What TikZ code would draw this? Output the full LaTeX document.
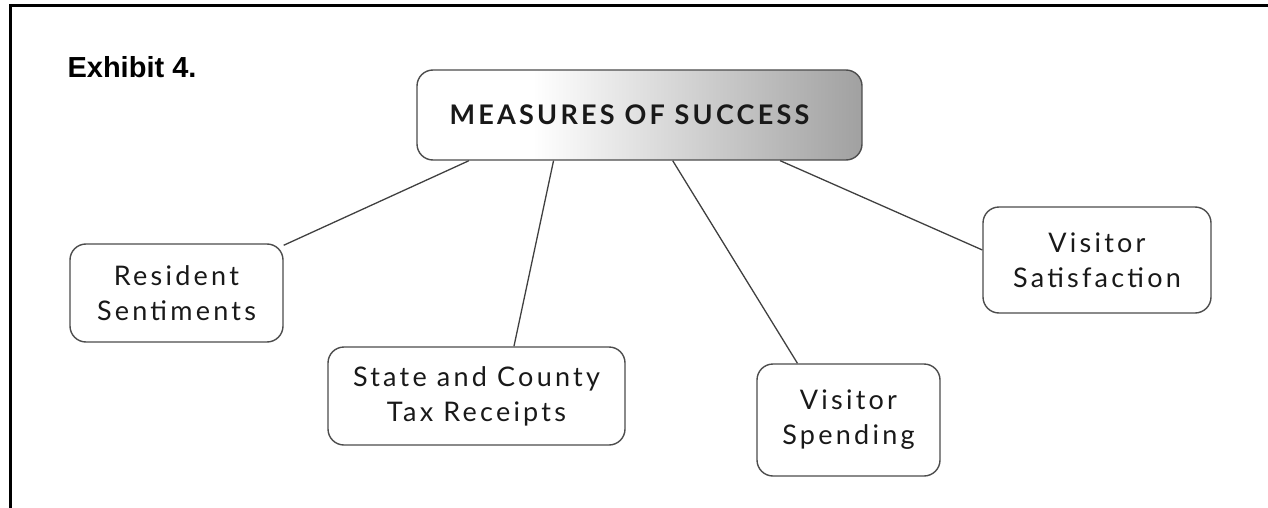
\documentclass[tikz,border=0pt]{standalone}
\usepackage{fontspec}
\setmainfont{Liberation Sans}
\newfontfamily\boxfont{Lato}[LetterSpace=12]
\usetikzlibrary{calc}

% white on the left, grey towards the right
\pgfdeclarehorizontalshading{successshade}{100bp}{color(0bp)=(white); color(38bp)=(white); color(75bp)=(black!37); color(100bp)=(black!37)}

\tikzset{
  measbox/.style={draw=black!70, line width=1.4pt, rounded corners=16pt, align=center,
    inner sep=0pt, text=black!90, font=\boxfont\fontsize{27}{35}\selectfont},
  link/.style={draw=black!75, line width=1.3pt}
}

\begin{document}
\begin{tikzpicture}[x=1pt,y=-1pt]
\useasboundingbox (0,0) rectangle (1268,508);

% cadre
\draw[line width=2.6pt] (10.5,508) -- (10.5,5.3) -- (1268,5.3);

\node[anchor=base west,font=\bfseries\fontsize{29}{33}\selectfont] (exhibit) at (64,78) {Exhibit 4.};

\node[measbox, shade, shading=successshade, minimum width=445pt, minimum height=90pt,
  font=\boxfont\bfseries\fontsize{27}{30}\selectfont] (success) at (639.5,115) {MEASURES OF SUCCESS\hspace*{20pt}};

\node[measbox, minimum width=213pt, minimum height=98pt] (resident) at (176.5,293) {Resident\\Sentiments};
\node[measbox, minimum width=297pt, minimum height=98pt] (tax) at (476.5,396) {State and County\\Tax Receipts};
\node[measbox, minimum width=183pt, minimum height=112pt] (spending) at (848.5,420) {Visitor\\Spending};
\node[measbox, minimum width=228pt, minimum height=106pt] (satisfaction) at (1097,260) {Visitor\\Satisfaction};

% liens
\draw[link] (success.195.3) -- (resident.24);
\draw[link] (success.208.6) -- (tax.53.3);
\draw[link] (success.306.7) -- (spending.132);
\draw[link] (success.342) -- (satisfaction.175);

\end{tikzpicture}
\end{document}
